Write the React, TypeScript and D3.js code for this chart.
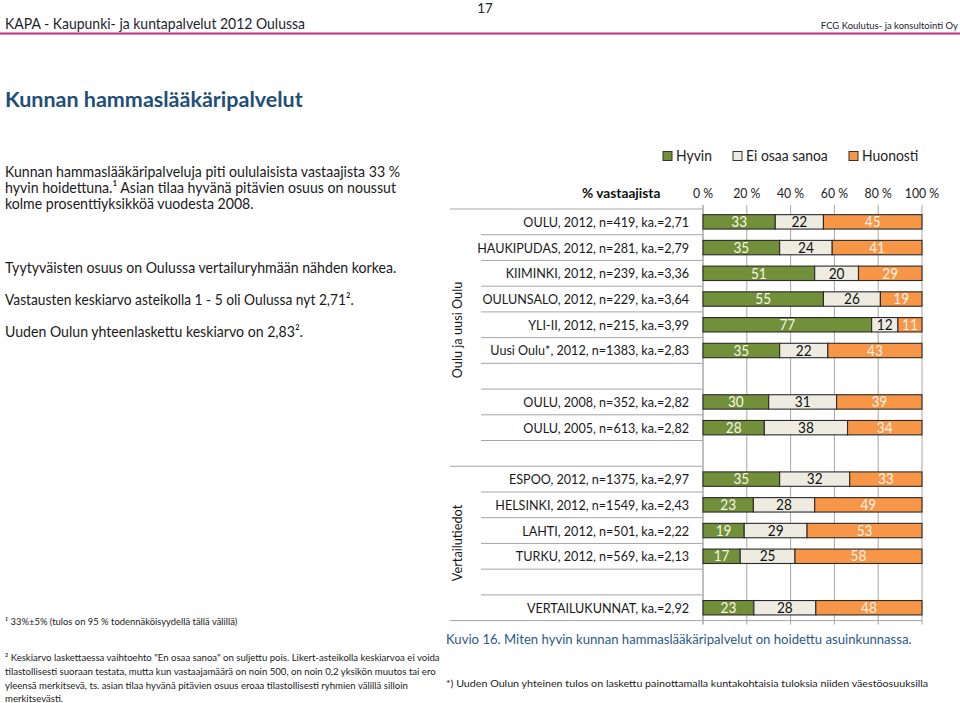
import React from "react";
import * as d3 from "d3";

const categories = [
  "OULU, 2012, n=419, ka.=2,71",
  "HAUKIPUDAS, 2012, n=281, ka.=2,79",
  "KIIMINKI, 2012, n=239, ka.=3,36",
  "OULUNSALO, 2012, n=229, ka.=3,64",
  "YLI-II, 2012, n=215, ka.=3,99",
  "Uusi Oulu*, 2012, n=1383, ka.=2,83",
  "",
  "OULU, 2008, n=352, ka.=2,82",
  "OULU, 2005, n=613, ka.=2,82",
  "",
  "ESPOO, 2012, n=1375, ka.=2,97",
  "HELSINKI, 2012, n=1549, ka.=2,43",
  "LAHTI, 2012, n=501, ka.=2,22",
  "TURKU, 2012, n=569, ka.=2,13",
  "",
  "VERTAILUKUNNAT, ka.=2,92",
];
const hyvin = [33, 35, 51, 55, 77, 35, null, 30, 28, null, 35, 23, 19, 17, null, 23];
const eiOsaa = [22, 24, 20, 26, 12, 22, null, 31, 38, null, 32, 28, 29, 25, null, 28];
const huonosti = [45, 41, 29, 19, 11, 43, null, 39, 34, null, 33, 49, 53, 58, null, 48];
const seriesNames = ["Hyvin", "Ei osaa sanoa", "Huonosti"];
const seriesKeys = ["hyvin", "eiOsaa", "huonosti"];
const seriesColors = ["#72903a", "#eeece1", "#f79646"];
const labelColors = ["#f4f6e6", "#111111", "#fbf1e6"];
const ticks = [0, 0.2, 0.4, 0.6, 0.8, 1];
const groups = [
  { name: "Oulu ja uusi Oulu", from: 0, to: 9 },
  { name: "Vertailutiedot", from: 10, to: 15 },
];

const FONT = "Lato, 'Open Sans', sans-serif";

function T({ x, y, size, anchor = "start", weight = "normal", fill = "#1a1a1a", rot = 0, sx = 0.91, children }: any) {
  return (
    <text
      transform={`translate(${x},${y})${rot ? ` rotate(${rot})` : ""} scale(${sx},1)`}
      fontSize={size}
      textAnchor={anchor}
      fontWeight={weight}
      fill={fill}
      fontFamily={FONT}
    >
      {children}
    </text>
  );
}

export default function App() {
  const W = 960, H = 703;
  const X0 = 703, X1 = 922, Y0 = 209, Y1 = 620.6;
  const x = d3.scaleLinear().domain([0, 1]).range([X0, X1]);
  const y = d3.scaleBand<number>().domain(d3.range(categories.length)).range([Y0, Y1]);
  const bh = y.bandwidth() * 0.56;

  const rows = categories
    .map((c, i) => ({ i, hyvin: hyvin[i], eiOsaa: eiOsaa[i], huonosti: huonosti[i] }))
    .filter((r) => r.hyvin != null);
  const stacked = d3.stack<any>().keys(seriesKeys).offset(d3.stackOffsetExpand)(rows);

  const legendX = [663, 733, 849];
  const BODY = 0.975;

  return (
    <svg width={W} height={H} style={{ position: "absolute", left: 0, top: 0, background: "#fff" }}>
      <rect width={W} height={H} fill="#fff" />
      {/* header */}
      <T x={485} y={13} size={14} anchor="middle" fill="#222" sx={0.95}>17</T>
      <T x={5} y={29} size={14.5} fill="#1e1e2e" sx={0.965}>KAPA - Kaupunki- ja kuntapalvelut 2012 Oulussa</T>
      <T x={958} y={29} size={10} anchor="end" fill="#1e1e2e" sx={0.95}>FCG Koulutus- ja konsultointi Oy</T>
      <line x1={0} x2={960} y1={33.5} y2={33.5} stroke="#c0307e" strokeWidth={2.2} />

      <T x={5} y={107} size={21.5} weight="bold" fill="#1f4e79" sx={1.0}>Kunnan hammaslääkäripalvelut</T>

      <T x={5} y={177} size={14.5} sx={BODY}>Kunnan hammaslääkäripalveluja piti  oululaisista vastaajista 33 %</T>
      <T x={5} y={193} size={14.5} sx={BODY}>hyvin hoidettuna.¹ Asian tilaa hyvänä pitävien osuus on noussut</T>
      <T x={5} y={209} size={14.5} sx={BODY}>kolme prosenttiyksikköä vuodesta 2008.</T>
      <T x={5} y={273} size={14.5} sx={BODY}>Tyytyväisten osuus on Oulussa vertailuryhmään nähden korkea.</T>
      <T x={5} y={305} size={14.5} sx={0.95}>Vastausten keskiarvo asteikolla 1 - 5 oli Oulussa nyt 2,71².</T>
      <T x={5} y={337} size={14.5} sx={BODY}>Uuden Oulun yhteenlaskettu keskiarvo on 2,83².</T>

      {/* footnotes */}
      <T x={5} y={625} size={9.6} sx={0.98}>¹ 33%±5% (tulos on 95 % todennäköisyydellä tällä välillä)</T>
      <T x={5} y={661} size={9.6} sx={1.0}>² Keskiarvo laskettaessa vaihtoehto "En osaa sanoa" on suljettu pois. Likert-asteikolla keskiarvoa ei voida</T>
      <T x={5} y={675} size={9.6} sx={1.0}>tilastollisesti suoraan testata, mutta kun vastaajamäärä on noin 500, on noin 0,2 yksikön muutos tai ero</T>
      <T x={5} y={689} size={9.6} sx={1.0}>yleensä merkitsevä, ts. asian tilaa hyvänä pitävien osuus eroaa  tilastollisesti ryhmien välillä silloin</T>
      <T x={5} y={701.5} size={9.6} sx={1.0}>merkitsevästi.</T>

      <T x={446} y={644} size={13.4} fill="#2b5a8a" sx={0.98}>Kuvio 16. Miten hyvin kunnan hammaslääkäripalvelut on hoidettu asuinkunnassa.</T>
      <T x={446} y={687} size={10.4} sx={1.03}>*) Uuden Oulun yhteinen tulos on laskettu painottamalla kuntakohtaisia tuloksia niiden väestöosuuksilla</T>

      {/* legend */}
      {seriesNames.map((s, k) => (
        <g key={s}>
          <rect x={legendX[k]} y={151.5} width={9} height={9} fill={seriesColors[k]} stroke="#333" strokeWidth={1} />
          <T x={legendX[k] + 13} y={161} size={14.5} fill="#222" sx={0.96}>{s}</T>
        </g>
      ))}

      {/* axis header */}
      <T x={582} y={198} size={14} weight="bold" fill="#111" sx={0.98}>% vastaajista</T>
      {ticks.map((t) => (
        <T key={t} x={x(t)} y={198} size={13.5} anchor="middle" fill="#222">{`${Math.round(t * 100)} %`}</T>
      ))}

      {/* gridlines */}
      {ticks.map((t) => (
        <line key={"g" + t} x1={x(t)} x2={x(t)} y1={Y0 - 4} y2={Y1 + 4} stroke={t === 0 ? "#7f7f7f" : "#a6a6a6"} strokeWidth={1} />
      ))}

      {/* category separators */}
      {d3.range(categories.length + 1).map((k) => {
        const yy = k === categories.length ? Y1 : (y(k) as number);
        const isGroup = k === 0 || groups.some((g) => g.from === k) || k === categories.length;
        return (
          <line
            key={"s" + k}
            x1={isGroup ? 450 : 481}
            x2={k === categories.length ? X1 : X0}
            y1={yy}
            y2={yy}
            stroke="#a6a6a6"
            strokeWidth={1}
          />
        );
      })}

      {/* category labels */}
      {categories.map((c, i) =>
        c ? (
          <T key={"c" + i} x={689} y={(y(i) as number) + y.bandwidth() / 2 + 5} size={14} anchor="end" fill="#1a1a1a" sx={0.9}>
            {c}
          </T>
        ) : null
      )}

      {/* group labels */}
      <T x={462} y={330} size={14} anchor="middle" rot={-90} fill="#1a1a1a">{groups[0].name}</T>
      <T x={462} y={543} size={14} anchor="middle" rot={-90} fill="#1a1a1a">{groups[1].name}</T>

      {/* bars */}
      {stacked.map((layer, k) =>
        layer.map((d: any) => {
          const i = d.data.i;
          const yc = (y(i) as number) + y.bandwidth() / 2;
          const xa = x(d[0]), xb = x(d[1]);
          const v = d.data[seriesKeys[k]];
          return (
            <g key={k + "-" + i}>
              <rect x={xa} y={yc - bh / 2} width={xb - xa} height={bh} fill={seriesColors[k]} stroke="#2a2a2a" strokeWidth={1.1} />
              <T x={(xa + xb) / 2} y={yc + 5.2} size={15} anchor="middle" fill={labelColors[k]}>{v}</T>
            </g>
          );
        })
      )}
    </svg>
  );
}
